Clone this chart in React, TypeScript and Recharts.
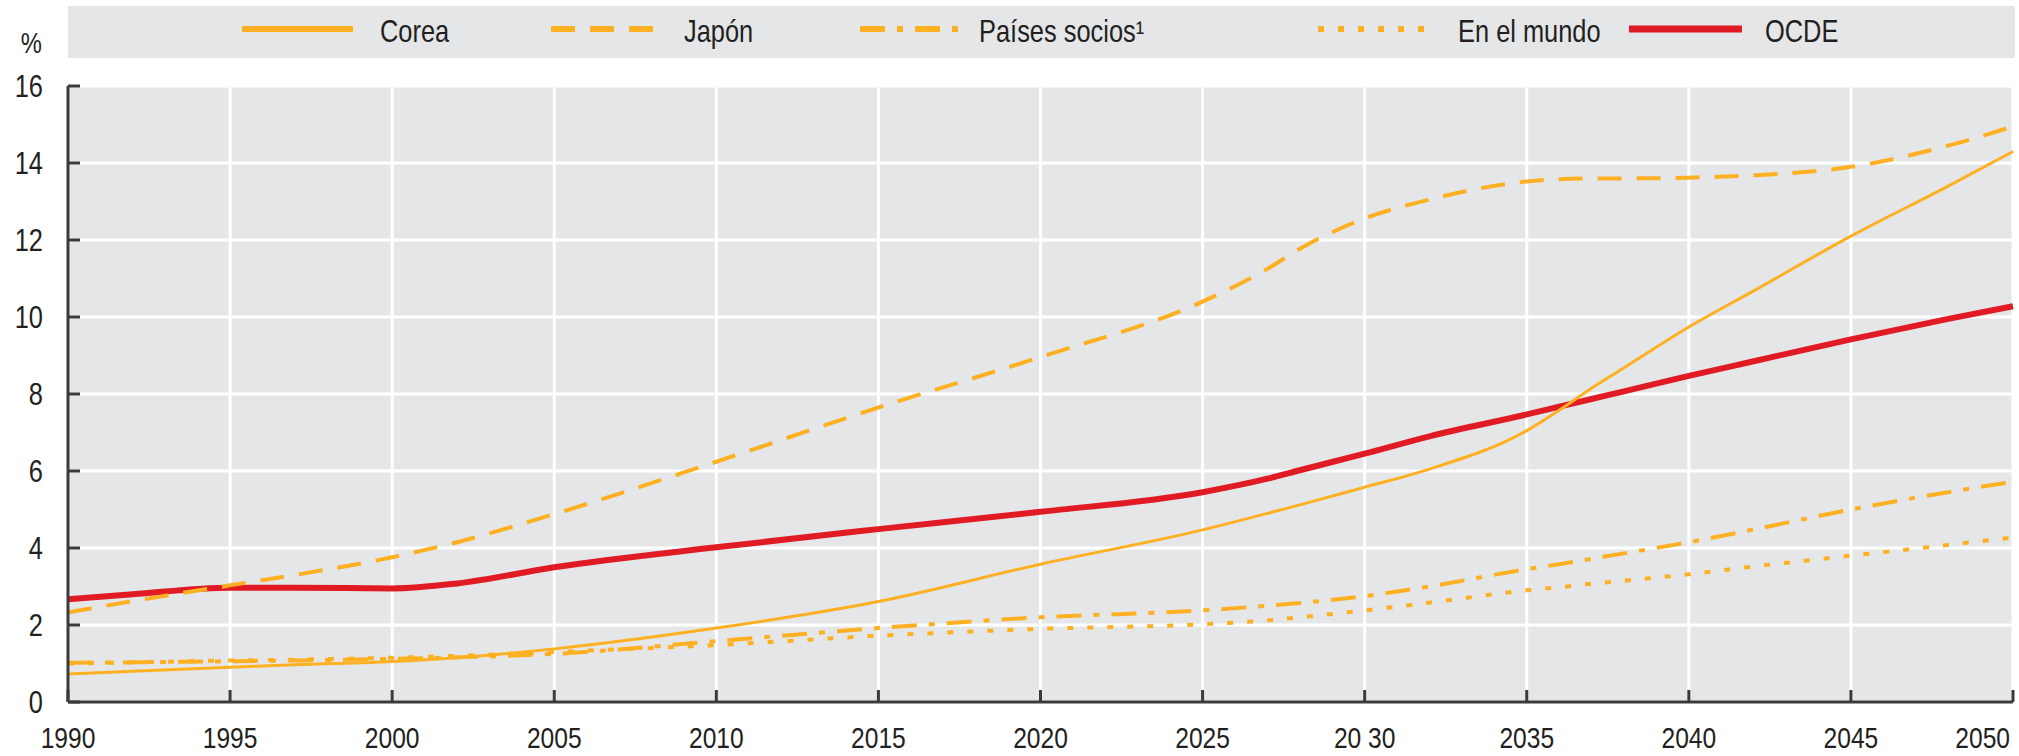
import React from 'react';
import { LineChart, Line, XAxis, YAxis, CartesianGrid, Legend } from 'recharts';

// ---------- data ----------
const YEARS = [1990, 1992, 1995, 1997, 2000, 2002, 2005, 2010, 2015, 2020, 2025, 2027, 2028, 2030, 2032, 2035, 2036, 2037, 2038, 2040, 2042, 2045, 2048, 2050];

const COREA = [0.73, 0.8, 0.9, 0.97, 1.05, 1.15, 1.38, 1.92, 2.61, 3.58, 4.47, 4.9, 5.12, 5.58, 6.05, 7.05, 7.58, 8.15, 8.68, 9.74, 10.68, 12.1, 13.4, 14.3];
const JAPON = [2.33, 2.62, 3.03, 3.3, 3.76, 4.15, 4.88, 6.24, 7.65, 8.96, 10.4, 11.25, 11.77, 12.56, 13.05, 13.52, 13.58, 13.6, 13.6, 13.62, 13.68, 13.9, 14.45, 14.95];
const SOCIOS = [1.02, 1.03, 1.06, 1.08, 1.12, 1.16, 1.25, 1.58, 1.92, 2.2, 2.38, 2.5, 2.57, 2.75, 3.0, 3.45, 3.58, 3.72, 3.86, 4.15, 4.48, 5.0, 5.45, 5.72];
const MUNDO = [1.0, 1.03, 1.08, 1.1, 1.15, 1.2, 1.3, 1.48, 1.72, 1.9, 2.02, 2.12, 2.2, 2.38, 2.58, 2.9, 2.98, 3.07, 3.15, 3.32, 3.52, 3.8, 4.08, 4.27];
const OCDE = [2.67, 2.8, 2.97, 2.97, 2.95, 3.08, 3.5, 4.02, 4.49, 4.94, 5.45, 5.8, 6.02, 6.45, 6.9, 7.47, 7.67, 7.87, 8.07, 8.47, 8.85, 9.42, 9.95, 10.28];

const X_TICKS = [1990, 1995, 2000, 2005, 2010, 2015, 2020, 2025, 2030, 2035, 2040, 2045, 2050];
const X_TICK_LABELS = ['1990', '1995', '2000', '2005', '2010', '2015', '2020', '2025', '20 30', '2035', '2040', '2045', '2050'];
const Y_TICKS = [0, 2, 4, 6, 8, 10, 12, 14, 16];
const Y_UNIT = '%';

const SERIES_NAMES = ['Corea', 'Japón', 'Países socios¹', 'En el mundo', 'OCDE'];
const SERIES_KEYS = ['corea', 'japon', 'socios', 'mundo', 'ocde'];

const data = YEARS.map((year, i) => ({
  year,
  corea: COREA[i],
  japon: JAPON[i],
  socios: SOCIOS[i],
  mundo: MUNDO[i],
  ocde: OCDE[i],
}));

// ---------- styles ----------
const ORANGE = '#FDB022';
const RED = '#E11B24';
const BG = '#E5E6E8';
const TEXT = '#231F20';
const FONT = "'Liberation Sans', Arial, sans-serif";
const FONT_SIZE = 30;
const NARROW = 0.82;

const STYLES: Record<string, { stroke: string; width: number; dash?: string; legendWidth: number }> = {
  corea: { stroke: ORANGE, width: 3, legendWidth: 6 },
  japon: { stroke: ORANGE, width: 4, dash: '24 15', legendWidth: 6 },
  socios: { stroke: ORANGE, width: 4, dash: '25 12 6 12', legendWidth: 6 },
  mundo: { stroke: ORANGE, width: 4, dash: '6 14', legendWidth: 6 },
  ocde: { stroke: RED, width: 6, legendWidth: 7 },
};

// legend layout (page coordinates of legend box and items)
const LEGEND_BOX = { left: 68, top: 6, width: 1947, height: 52 };
const LEGEND_ITEMS = [
  { sampleX: 242, sampleEnd: 353, textX: 380 },
  { sampleX: 551, sampleEnd: 658, textX: 684 },
  { sampleX: 860, sampleEnd: 967, textX: 979 },
  { sampleX: 1318, sampleEnd: 1432, textX: 1458 },
  { sampleX: 1629, sampleEnd: 1742, textX: 1765 },
];

const NarrowText = ({ x, y, anchor, dy, size, children }: any) => (
  <text
    transform={`translate(${x},${y}) scale(${NARROW},1)`}
    x={0}
    y={0}
    dy={dy}
    textAnchor={anchor}
    fontFamily={FONT}
    fontSize={size || FONT_SIZE}
    fill={TEXT}
  >
    {children}
  </text>
);

const renderLegend = () => (
  <svg width={LEGEND_BOX.width} height={LEGEND_BOX.height} style={{ display: 'block' }}>
    <rect x={0} y={0} width={LEGEND_BOX.width} height={LEGEND_BOX.height} fill={BG} />
    {SERIES_KEYS.map((k, i) => {
      const it = LEGEND_ITEMS[i];
      const st = STYLES[k];
      return (
        <g key={k}>
          <line
            x1={it.sampleX - LEGEND_BOX.left}
            x2={it.sampleEnd - LEGEND_BOX.left}
            y1={23}
            y2={23}
            stroke={st.stroke}
            strokeWidth={st.legendWidth}
            strokeDasharray={st.dash}
          />
          <NarrowText x={it.textX - LEGEND_BOX.left} y={36} anchor="start" size={31}>
            {SERIES_NAMES[i]}
          </NarrowText>
        </g>
      );
    })}
  </svg>
);

const XTick = (props: any) => {
  const { x, y, payload } = props;
  const idx = X_TICKS.indexOf(payload.value);
  const label = idx >= 0 ? X_TICK_LABELS[idx] : String(payload.value);
  const isLast = idx === X_TICKS.length - 1;
  return (
    <NarrowText x={isLast ? x - 3 : x} y={y} dy="0.71em" anchor={isLast ? 'end' : 'middle'}>
      {label}
    </NarrowText>
  );
};

const YTick = (props: any) => {
  const { x, y, payload } = props;
  return (
    <NarrowText x={x} y={y} dy="0.355em" anchor="end" size={31}>
      {payload.value}
    </NarrowText>
  );
};

const UnitLabel = (props: any) => {
  const vb = props.viewBox || {};
  return (
    <NarrowText x={(vb.x || 0) + (vb.width || 0) - 26} y={(vb.y || 0) - 43} dy="0.355em" anchor="end" size={29}>
      {Y_UNIT}
    </NarrowText>
  );
};

const AXIS_LINE = { stroke: '#3A3A3A', strokeWidth: 3 };
const TICK_LINE = { stroke: '#3A3A3A', strokeWidth: 3 };

export default function App() {
  const drawOrder = ['ocde', 'japon', 'socios', 'mundo', 'corea'];
  return (
    <div style={{ position: 'absolute', left: 0, top: 0, width: 2019, height: 756, background: '#fff' }}>
      <LineChart width={2019} height={756} data={data} margin={{ top: 86, right: 6, bottom: 4, left: 8 }}>
        <CartesianGrid fill={BG} stroke="#FFFFFF" strokeWidth={3} />
        <XAxis
          dataKey="year"
          type="number"
          domain={[1990, 2050]}
          ticks={X_TICKS}
          interval={0}
          height={50}
          axisLine={AXIS_LINE}
          tickLine={TICK_LINE}
          tickSize={-12}
          tickMargin={37}
          tick={<XTick />}
        />
        <YAxis
          type="number"
          domain={[0, 16]}
          ticks={Y_TICKS}
          interval={0}
          width={60}
          axisLine={AXIS_LINE}
          tickLine={TICK_LINE}
          tickSize={-12}
          tickMargin={37}
          tick={<YTick />}
          label={<UnitLabel />}
        />
        <Legend
          layout="horizontal"
          verticalAlign="middle"
          align="center"
          content={renderLegend}
          wrapperStyle={{ top: LEGEND_BOX.top, left: LEGEND_BOX.left, width: LEGEND_BOX.width, height: LEGEND_BOX.height }}
        />
        {drawOrder.map((k) => {
          const st = STYLES[k];
          return (
            <Line
              key={k}
              type="monotone"
              dataKey={k}
              name={SERIES_NAMES[SERIES_KEYS.indexOf(k)]}
              stroke={st.stroke}
              strokeWidth={st.width}
              strokeDasharray={st.dash}
              dot={false}
              activeDot={false}
              isAnimationActive={false}
            />
          );
        })}
      </LineChart>
    </div>
  );
}
